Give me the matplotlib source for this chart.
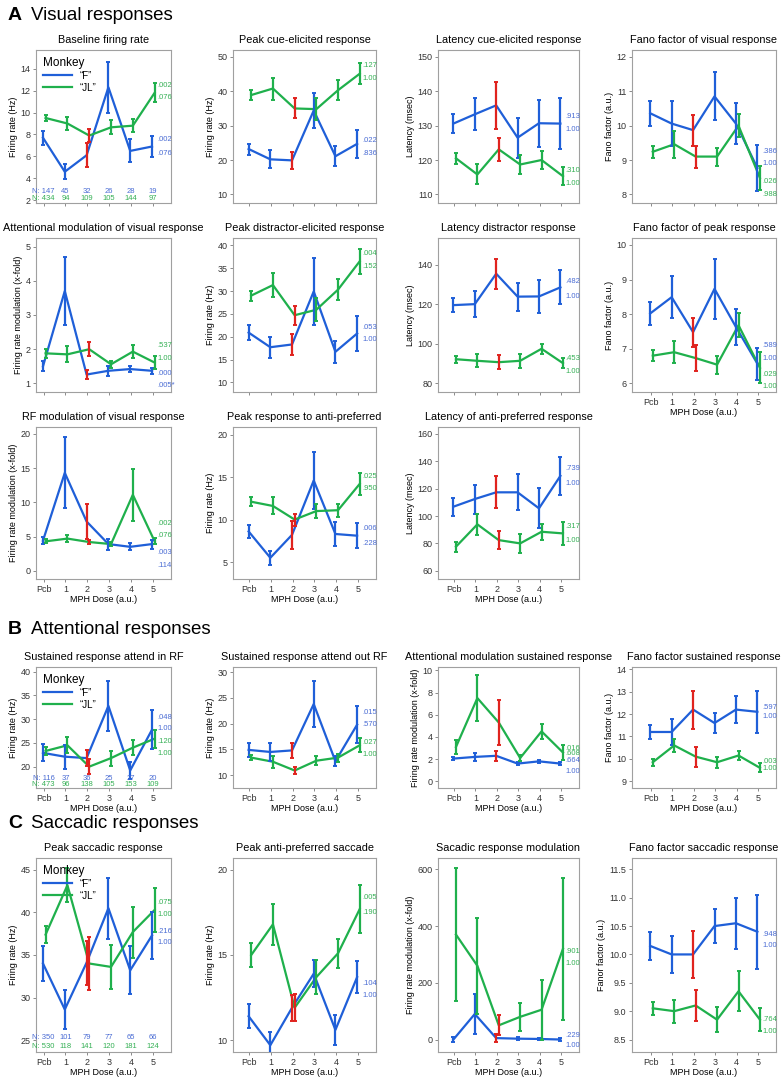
import matplotlib
matplotlib.use('Agg')
import matplotlib.pyplot as plt
import numpy as np

plt.rcParams['font.family'] = ['Liberation Sans', 'DejaVu Sans']

doses = ['Pcb', '1', '2', '3', '4', '5']
blue = '#1f5fd8'
green = '#1fb04c'
red = '#e0231e'
blue_txt = '#4a6cd4'
green_txt = '#35b055'

# ---- A. visual responses
base_f = [7.7, 4.6, 6.1, 12.3, 6.5, 6.9]
base_f_err = [0.65, 0.7, 1.1, 2.35, 1.05, 1.0]
base_jl = [9.5, 9.0, 7.9, 8.65, 8.8, 11.8]
base_jl_err = [0.3, 0.6, 0.6, 0.65, 0.6, 0.85]
base_n_f = ['N: 147', '45', '32', '26', '28', '19']
base_n_jl = ['N: 434', '94', '109', '105', '144', '97']

cue_f = [23.2, 20.2, 19.9, 34.4, 21.1, 24.7]
cue_f_err = [1.6, 2.6, 2.5, 5.0, 2.9, 4.0]
cue_jl = [38.9, 40.8, 35.0, 34.8, 40.3, 45.1]
cue_jl_err = [1.5, 3.2, 2.9, 3.1, 2.9, 3.1]

latcue_f = [130.6, 133.3, 135.9, 126.5, 130.7, 130.6]
latcue_f_err = [2.7, 4.7, 6.8, 5.8, 6.9, 7.4]
latcue_jl = [120.5, 115.8, 123.1, 118.7, 120.0, 115.3]
latcue_jl_err = [1.6, 2.9, 3.3, 2.8, 2.5, 2.7]

fanovis_f = [10.36, 10.06, 9.87, 10.85, 10.06, 8.77]
fanovis_f_err = [0.36, 0.65, 0.45, 0.7, 0.6, 0.67]
fanovis_jl = [9.24, 9.46, 9.1, 9.1, 10.0, 8.48]
fanovis_jl_err = [0.17, 0.39, 0.32, 0.26, 0.33, 0.34]

attmod_f = [1.5, 3.7, 1.26, 1.37, 1.42, 1.37]
attmod_f_err = [0.15, 1.0, 0.12, 0.14, 0.1, 0.08]
attmod_jl = [1.88, 1.85, 2.0, 1.56, 1.93, 1.61]
attmod_jl_err = [0.14, 0.23, 0.2, 0.1, 0.19, 0.19]

dist_f = [20.9, 17.7, 18.3, 29.9, 16.7, 20.7]
dist_f_err = [1.65, 2.3, 2.3, 7.4, 2.4, 3.75]
dist_jl = [29.0, 31.3, 24.7, 25.9, 30.3, 36.5]
dist_jl_err = [1.1, 2.6, 2.1, 2.5, 2.3, 2.7]

latdist_f = [119.5, 120.0, 135.4, 123.8, 123.9, 128.5]
latdist_f_err = [3.4, 6.5, 7.7, 7.1, 8.5, 8.6]
latdist_jl = [92.1, 91.3, 90.6, 91.3, 97.4, 90.1]
latdist_jl_err = [1.8, 3.2, 3.6, 3.4, 2.5, 2.4]

fanopk_f = [8.02, 8.49, 7.48, 8.73, 7.63, 6.57]
fanopk_f_err = [0.33, 0.6, 0.42, 0.86, 0.51, 0.46]
fanopk_jl = [6.8, 6.9, 6.73, 6.54, 7.68, 6.45]
fanopk_jl_err = [0.15, 0.32, 0.37, 0.26, 0.35, 0.45]

rfmod_f = [4.4, 14.3, 7.2, 3.9, 3.5, 3.9]
rfmod_f_err = [0.5, 5.2, 2.5, 0.8, 0.5, 0.65]
rfmod_jl = [4.3, 4.7, 4.2, 3.9, 11.1, 4.3]
rfmod_jl_err = [0.3, 0.55, 0.35, 0.3, 3.8, 0.45]

anti_f = [8.6, 5.5, 8.2, 14.6, 8.3, 8.1]
anti_f_err = [0.8, 0.8, 1.65, 3.3, 1.4, 1.45]
anti_jl = [12.1, 11.6, 10.0, 11.0, 11.1, 14.2]
anti_jl_err = [0.55, 1.0, 0.7, 0.85, 0.75, 1.3]

latanti_f = [106.8, 112.4, 117.3, 117.3, 105.6, 129.3]
latanti_f_err = [6.7, 10.6, 11.6, 13.1, 14.6, 14.0]
latanti_jl = [77.6, 93.9, 82.4, 80.0, 88.5, 87.3]
latanti_jl_err = [3.6, 7.5, 6.5, 7.0, 5.9, 8.2]

# ---- B. attentional responses
susin_f = [22.9, 22.1, 21.8, 32.8, 19.2, 27.8]
susin_f_err = [1.8, 2.5, 1.7, 5.2, 1.8, 4.1]
susin_jl = [23.3, 24.5, 20.0, 21.8, 24.0, 25.9]
susin_jl_err = [0.8, 1.7, 1.6, 1.6, 1.6, 1.9]
susin_n_f = ['N: 116', '37', '36', '25', '27', '20']
susin_n_jl = ['N: 473', '96', '138', '105', '153', '109']

susout_f = [14.9, 14.5, 14.8, 23.8, 12.7, 19.8]
susout_f_err = [1.3, 1.7, 1.4, 4.4, 1.0, 3.6]
susout_jl = [13.4, 12.6, 10.9, 12.8, 13.4, 15.8]
susout_jl_err = [0.5, 1.2, 0.7, 0.85, 0.8, 1.35]

attsus_f = [2.05, 2.2, 2.3, 1.6, 1.8, 1.6]
attsus_f_err = [0.15, 0.35, 0.45, 0.1, 0.15, 0.15]
attsus_jl = [3.1, 7.5, 5.3, 2.1, 4.5, 2.6]
attsus_jl_err = [0.6, 2.1, 2.0, 0.3, 0.65, 0.65]

fanosus_f = [11.2, 11.2, 12.2, 11.6, 12.2, 12.1]
fanosus_f_err = [0.3, 0.6, 0.85, 0.45, 0.6, 0.95]
fanosus_jl = [9.85, 10.6, 10.1, 9.85, 10.15, 9.6]
fanosus_jl_err = [0.15, 0.3, 0.45, 0.25, 0.2, 0.2]

# ---- C. saccadic responses
sac_f = [34.0, 28.6, 34.1, 40.5, 33.2, 37.3]
sac_f_err = [2.0, 2.3, 2.6, 3.6, 2.8, 2.8]
sac_jl = [37.4, 43.2, 34.0, 33.6, 37.7, 40.3]
sac_jl_err = [1.0, 2.0, 3.1, 2.6, 3.0, 2.6]
sac_n_f = ['N: 350', '101', '79', '77', '65', '66']
sac_n_jl = ['N: 530', '118', '141', '120', '181', '124']

sacanti_f = [11.4, 9.7, 11.9, 13.9, 10.6, 13.7]
sacanti_f_err = [0.7, 0.8, 0.75, 0.8, 0.9, 0.95]
sacanti_jl = [15.0, 16.8, 11.9, 13.7, 15.1, 17.7]
sacanti_jl_err = [0.7, 1.2, 0.8, 1.0, 0.85, 1.4]

sacmod_f = [0, 90, 5, 3, 2, 0]
sacmod_f_err = [8, 70, 15, 5, 5, 5]
sacmod_jl = [370, 260, 50, 80, 105, 320]
sacmod_jl_err = [235, 170, 35, 50, 105, 250]

fanosac_f = [10.15, 10.0, 10.0, 10.5, 10.55, 10.4]
fanosac_f_err = [0.25, 0.33, 0.42, 0.3, 0.45, 0.65]
fanosac_jl = [9.05, 9.0, 9.1, 8.85, 9.35, 8.85]
fanosac_jl_err = [0.12, 0.2, 0.27, 0.22, 0.35, 0.2]

fig = plt.figure(figsize=(7.82, 10.8), dpi=100)
W, H = 782.0, 1080.0
cols = [(36, 171), (233, 376), (438, 579), (632, 776)]
xleft = [-0.35, -0.75, -0.75, -0.88]


def make_ax(col, top, bot):
    l, r = cols[col]
    ax = fig.add_axes([l / W, 1 - bot / H, (r - l) / W, (bot - top) / H])
    ax.set_xlim(xleft[col], 5.84)
    return ax


def panel(ax, title, ylabel, f, f_err, jl, jl_err, ylim, yticks, p_f, p_jl,
          xlabels=False, n_f=None, n_jl=None, legend=False):
    x = np.arange(len(doses))
    for vals, errs, col, off, lab in [(f, f_err, blue, -0.03, u'\u201cF\u201d'),
                                      (jl, jl_err, green, 0.09, u'\u201cJL\u201d')]:
        xs = x + off
        ax.plot(xs, vals, color=col, lw=1.6, label=lab, zorder=2)
        ecols = [red if d == '2' else col for d in doses]
        for xi, v, e, c in zip(xs, vals, errs, ecols):
            ax.errorbar(xi, v, yerr=e, color=c, lw=0, elinewidth=1.6,
                        capsize=1.6, capthick=1.4, zorder=3)
    # p values on right side
    for (txt, yv), c in [(p, blue_txt) for p in p_f] + [(p, green_txt) for p in p_jl]:
        ax.text(5.2, yv, txt, color=c, fontsize=5.5, va='center', ha='left')
    if n_f is not None:
        for xi, a, b in zip(x, n_f, n_jl):
            ax.text(xi, 0.075, a, color=blue_txt, fontsize=5.5, ha='center',
                    va='center', transform=ax.get_xaxis_transform(), clip_on=False)
            ax.text(xi, 0.03, b, color=green_txt, fontsize=5.5, ha='center',
                    va='center', transform=ax.get_xaxis_transform(), clip_on=False)
    ax.set_ylim(*ylim)
    ax.set_yticks(yticks)
    ax.set_xticks(x)
    if xlabels:
        ax.set_xticklabels(doses)
        ax.set_xlabel('MPH Dose (a.u.)', fontsize=6.5, labelpad=1)
    else:
        ax.set_xticklabels([])
    ax.set_title(title, fontsize=7.8, pad=5)
    ax.set_ylabel(ylabel, fontsize=6.5, labelpad=2)
    ax.tick_params(direction='out', length=2.5, width=0.6, color='#777777',
                   labelsize=6.5, labelcolor='#333333', pad=1.5)
    for s in ax.spines.values():
        s.set_color('#a0a0a0')
        s.set_linewidth(0.8)
    if legend:
        ax.legend(title='Monkey', loc='upper left', frameon=False, fontsize=7,
                  title_fontsize=8.5, handlelength=3.0, borderaxespad=0.3,
                  labelspacing=0.2)._legend_box.align = 'left'


# section headers
for y, letter, name in [(15, 'A', 'Visual responses'), (630, 'B', 'Attentional responses'),
                        (823, 'C', 'Saccadic responses')]:
    fig.text(8 / W, 1 - y / H, letter, fontsize=14, fontweight='bold', va='center')
    fig.text(31 / W, 1 - y / H, name, fontsize=13.5, va='center')

rA1, rA2, rA3 = (50, 203), (238, 392), (427, 579)
rB, rC = (667, 788), (858, 1052)

panel(make_ax(0, *rA1), 'Baseline firing rate', 'Firing rate (Hz)', base_f, base_f_err,
      base_jl, base_jl_err, (1.75, 15.7), [2, 4, 6, 8, 10, 12, 14],
      [('.002', 7.5), ('.076', 6.3)], [('.002', 12.5), ('.076', 11.4)],
      n_f=base_n_f, n_jl=base_n_jl, legend=True)
panel(make_ax(1, *rA1), 'Peak cue-elicited response', 'Firing rate (Hz)', cue_f, cue_f_err,
      cue_jl, cue_jl_err, (7.5, 52), [10, 20, 30, 40, 50],
      [('.022', 25.6), ('.836', 22.0)], [('.127', 47.5), ('1.00', 43.7)])
panel(make_ax(2, *rA1), 'Latency cue-elicited response', 'Latency (msec)', latcue_f, latcue_f_err,
      latcue_jl, latcue_jl_err, (107.5, 152), [110, 120, 130, 140, 150],
      [('.913', 132.7), ('1.00', 128.9)], [('.310', 117.0), ('1.00', 113.1)])
panel(make_ax(3, *rA1), 'Fano factor of visual response', 'Fano factor (a.u.)', fanovis_f,
      fanovis_f_err, fanovis_jl, fanovis_jl_err, (7.75, 12.2), [8, 9, 10, 11, 12],
      [('.386', 9.26), ('1.00', 8.9)], [('.026', 8.37), ('.988', 7.99)])

panel(make_ax(0, *rA2), 'Attentional modulation of visual response', 'Firing rate modulation (x-fold)',
      attmod_f, attmod_f_err, attmod_jl, attmod_jl_err, (0.75, 5.25), [1, 2, 3, 4, 5],
      [('.000', 1.3), ('.005*', 0.93)], [('.537', 2.1), ('1.00', 1.73)])
panel(make_ax(1, *rA2), 'Peak distractor-elicited response', 'Firing rate (Hz)', dist_f, dist_f_err,
      dist_jl, dist_jl_err, (7.9, 41.6), [10, 15, 20, 25, 30, 35, 40],
      [('.053', 22.0), ('1.00', 19.3)], [('.004', 38.2), ('.152', 35.4)])
panel(make_ax(2, *rA2), 'Latency distractor response', 'Latency (msec)', latdist_f, latdist_f_err,
      latdist_jl, latdist_jl_err, (75.5, 153.5), [80, 100, 120, 140],
      [('.482', 131.5), ('1.00', 124.0)], [('.453', 92.3), ('1.00', 85.8)])
panel(make_ax(3, *rA2), 'Fano factor of peak response', 'Fano factor (a.u.)', fanopk_f, fanopk_f_err,
      fanopk_jl, fanopk_jl_err, (5.75, 10.2), [6, 7, 8, 9, 10],
      [('.589', 7.09), ('1.00', 6.71)], [('.029', 6.27), ('1.00', 5.9)], xlabels=True)

panel(make_ax(0, *rA3), 'RF modulation of visual response', 'Firing rate modulation (x-fold)',
      rfmod_f, rfmod_f_err, rfmod_jl, rfmod_jl_err, (-1.2, 21), [0, 5, 10, 15, 20],
      [('.003', 2.67), ('.114', 0.78)], [('.002', 6.9), ('.076', 5.1)], xlabels=True)
panel(make_ax(1, *rA3), 'Peak response to anti-preferred', 'Firing rate (Hz)', anti_f, anti_f_err,
      anti_jl, anti_jl_err, (3.0, 20.9), [5, 10, 15, 20],
      [('.006', 8.9), ('.228', 7.2)], [('.025', 15.1), ('.950', 13.6)], xlabels=True)
panel(make_ax(2, *rA3), 'Latency of anti-preferred response', 'Latency (msec)', latanti_f,
      latanti_f_err, latanti_jl, latanti_jl_err, (54, 165), [60, 80, 100, 120, 140, 160],
      [('.739', 134.4), ('1.00', 123.9)], [('.317', 92.2), ('1.00', 82.4)], xlabels=True)

panel(make_ax(0, *rB), 'Sustained response attend in RF', 'Firing rate (Hz)', susin_f, susin_f_err,
      susin_jl, susin_jl_err, (15.5, 41), [20, 25, 30, 35, 40],
      [('.048', 30.3), ('1.00', 28.0)], [('.120', 25.2), ('1.00', 22.7)], xlabels=True,
      n_f=susin_n_f, n_jl=susin_n_jl, legend=True)
panel(make_ax(1, *rB), 'Sustained response attend out RF', 'Firing rate (Hz)', susout_f,
      susout_f_err, susout_jl, susout_jl_err, (7.5, 31), [10, 15, 20, 25, 30],
      [('.015', 22.2), ('.570', 19.9)], [('.027', 16.4), ('1.00', 14.0)], xlabels=True)
panel(make_ax(2, *rB), 'Attentional modulation sustained response', 'Firing rate modulation (x-fold)',
      attsus_f, attsus_f_err, attsus_jl, attsus_jl_err, (-0.6, 10.3), [0, 2, 4, 6, 8, 10],
      [('.664', 1.9), ('1.00', 0.9)], [('.016', 3.0), ('.608', 2.5)], xlabels=True)
panel(make_ax(3, *rB), 'Fano factor sustained response', 'Fano factor (a.u.)', fanosus_f,
      fanosus_f_err, fanosus_jl, fanosus_jl_err, (8.7, 14.1), [9, 10, 11, 12, 13, 14],
      [('.597', 12.3), ('1.00', 11.9)], [('.003', 9.9), ('1.00', 9.55)], xlabels=True)

panel(make_ax(0, *rC), 'Peak saccadic response', 'Firing rate (Hz)', sac_f, sac_f_err,
      sac_jl, sac_jl_err, (23.6, 46.4), [25, 30, 35, 40, 45],
      [('.216', 37.8), ('1.00', 36.5)], [('.075', 41.2), ('1.00', 39.8)], xlabels=True,
      n_f=sac_n_f, n_jl=sac_n_jl, legend=True)
panel(make_ax(1, *rC), 'Peak anti-preferred saccade', 'Firing rate (Hz)', sacanti_f, sacanti_f_err,
      sacanti_jl, sacanti_jl_err, (9.3, 20.7), [10, 15, 20],
      [('.104', 13.3), ('1.00', 12.6)], [('.005', 18.4), ('.190', 17.5)], xlabels=True)
panel(make_ax(2, *rC), 'Sacadic response modulation', 'Firing rate modulation (x-fold)', sacmod_f,
      sacmod_f_err, sacmod_jl, sacmod_jl_err, (-44, 640), [0, 200, 400, 600],
      [('.229', 15), ('1.00', -22)], [('.901', 310), ('1.00', 268)], xlabels=True)
panel(make_ax(3, *rC), 'Fano factor saccadic response', 'Fanor factor (a.u.)', fanosac_f,
      fanosac_f_err, fanosac_jl, fanosac_jl_err, (8.28, 11.7), [8.5, 9, 9.5, 10, 10.5, 11, 11.5],
      [('.948', 10.35), ('1.00', 10.15)], [('.764', 8.85), ('1.00', 8.65)], xlabels=True)

fig.savefig('out.png', dpi=100)
